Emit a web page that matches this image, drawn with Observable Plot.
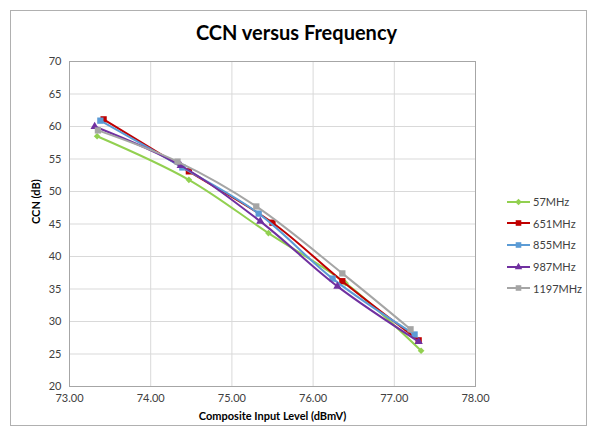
<!DOCTYPE html>
<html><head><meta charset="utf-8">
<script src="https://cdn.jsdelivr.net/npm/d3@7"></script>
<script src="https://cdn.jsdelivr.net/npm/@observablehq/plot@0.6"></script>
<style>
body{margin:0;background:#fff;font-family:Lato,"Open Sans",sans-serif;}
#wrap{position:relative;width:593px;height:436px;}
#border{position:absolute;left:10px;top:10px;width:577px;height:416px;border:1px solid #b0b0b0;box-sizing:border-box;}
#title{position:absolute;left:0;width:593px;top:20px;text-align:center;font-weight:bold;font-size:20px;color:#000;}
#legend{position:absolute;left:507px;top:191px;font-size:11px;color:#404040;}
#legend div{height:21.6px;display:flex;align-items:center;}
#chart{position:absolute;left:0;top:0;}
</style></head><body>
<div id="wrap"><div id="border"></div><div id="chart"></div><div id="title">CCN versus Frequency</div><div id="legend"></div></div>
<script>
const series = ["57MHz","651MHz","855MHz","987MHz","1197MHz"];
const colors = ["#92D050","#C00000","#5B9BD5","#7030A0","#A5A5A5"];
const symbols = ["diamond2","square2","square2","triangle2","square2"];
const x57 = [73.34,74.47,75.45,76.40,77.33];
const y57 = [58.5,51.8,43.6,35.9,25.5];
const x651 = [73.42,74.47,75.50,76.36,77.30];
const y651 = [61.1,53.1,45.2,36.2,27.1];
const x855 = [73.38,74.39,75.33,76.24,77.25];
const y855 = [60.9,53.7,46.6,36.6,28.0];
const x987 = [73.31,74.37,75.35,76.30,77.30];
const y987 = [60.0,54.0,45.4,35.4,26.9];
const x1197 = [73.35,74.33,75.30,76.36,77.20];
const y1197 = [59.4,54.6,47.7,37.4,28.8];
const xTicks = [73,74,75,76,77,78];
const yTicks = [20,25,30,35,40,45,50,55,60,65,70];

const xs=[x57,x651,x855,x987,x1197], ys=[y57,y651,y855,y987,y1197];
const data = [];
series.forEach((s,i)=>xs[i].forEach((x,j)=>data.push({series:s,x,y:ys[i][j]})));

const marks = [
  Plot.gridX(xTicks,{stroke:"#d9d9d9",strokeOpacity:1}),
  Plot.gridY(yTicks,{stroke:"#d9d9d9",strokeOpacity:1}),
  Plot.frame({stroke:"#a6a6a6"}),
  Plot.axisX(xTicks,{tickSize:0,tickPadding:8,tickFormat:d=>d.toFixed(2),fontSize:11,color:"#404040",label:null}),
  Plot.axisY(yTicks,{tickSize:0,tickPadding:8,fontSize:11,color:"#404040",label:null}),
  Plot.text(["Composite Input Level (dBmV)"],{frameAnchor:"bottom",dy:33,fontWeight:"bold",fontSize:11,fill:"#000"}),
  Plot.text(["CCN (dB)"],{frameAnchor:"left",dx:-33,rotate:-90,fontWeight:"bold",fontSize:11,fill:"#000"})
];
series.forEach((s,i)=>{
  const d = data.filter(r=>r.series===s);
  marks.push(Plot.line(d,{x:"x",y:"y",stroke:colors[i],strokeWidth:2,curve:"catmull-rom"}));
  marks.push(Plot.dot(d,{x:"x",y:"y",fill:colors[i],stroke:"none",symbol:()=>symbols[i],r:i===0?3:4}));
});
const plot = Plot.plot({
  width:593,height:436,marginLeft:69,marginRight:118,marginTop:61,marginBottom:50,
  x:{domain:[73,78]},y:{domain:[20,70]},
  style:{fontFamily:"Lato, 'Open Sans', sans-serif",background:"transparent"},
  marks
});
document.getElementById("chart").appendChild(plot);

const leg = document.getElementById("legend");
series.forEach((s,i)=>{
  const row=document.createElement("div");
  const svg=d3.create("svg").attr("width",26).attr("height",10);
  svg.append("line").attr("x1",0).attr("x2",23).attr("y1",5).attr("y2",5).attr("stroke",colors[i]).attr("stroke-width",2);
  svg.append("path").attr("transform","translate(11.5,5)").attr("d",d3.symbol(i===0?d3.symbolDiamond2:i===3?d3.symbolTriangle2:d3.symbolSquare2, i===0?28:40)()).attr("fill",colors[i]);
  row.appendChild(svg.node());
  const t=document.createElement("span");t.textContent=s;row.appendChild(t);
  leg.appendChild(row);
});
</script>
</body></html>
